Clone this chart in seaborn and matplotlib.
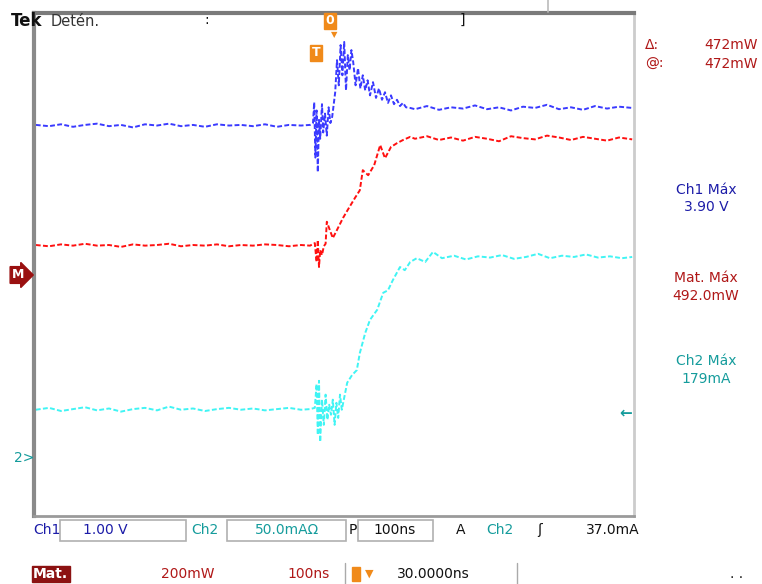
import numpy as np
import pandas as pd
import matplotlib
matplotlib.use("Agg")
import matplotlib.pyplot as plt
from matplotlib.patches import Rectangle
import seaborn as sns

# Datos (tiempo en ns, amplitud en divisiones)
base_t = [-497, -475, -455, -435, -415, -395, -375, -355, -335, -315, -295, -275,
          -255, -235, -215, -195, -175, -155, -135, -115, -95, -75, -55, -40]
flat_t = [135, 155, 175, 195, 215, 235, 255, 275, 295, 315, 335, 355, 375, 395,
          415, 435, 455, 475, 497]

# Ch1 (azul)
ch1_base = [2.22, 2.20, 2.23, 2.19, 2.22, 2.24, 2.20, 2.22, 2.18, 2.23, 2.21, 2.24,
            2.20, 2.22, 2.19, 2.23, 2.21, 2.22, 2.20, 2.23, 2.19, 2.22, 2.21, 2.22]
ch1_mid_t = [-35, -33, -31, -29, -27, -25, -23, -20, -18, -15, -12, -9, -6, -3,
             2, 5, 8, 11, 14, 17, 20, 23, 26, 29,
             32, 36, 40, 44, 48, 52, 56, 60, 65, 70, 75, 80, 85, 90, 95, 100, 105,
             110, 115, 120, 127]
ch1_mid = [2.25, 2.58, 1.70, 2.45, 1.47, 2.30, 2.00, 2.55, 2.10, 2.40, 2.05, 2.50, 2.25, 2.35,
           2.74, 3.25, 2.85, 3.49, 3.01, 3.54, 2.77, 3.33, 3.09, 3.41,
           3.22, 2.85, 3.12, 2.80, 3.01, 2.77, 2.93, 2.69, 2.90, 2.65, 2.80, 2.62, 2.74,
           2.57, 2.69, 2.55, 2.62, 2.52, 2.57, 2.50, 2.49]
ch1_flat = [2.47, 2.52, 2.46, 2.50, 2.48, 2.53, 2.47, 2.50, 2.45, 2.51, 2.49, 2.54,
            2.47, 2.50, 2.46, 2.52, 2.48, 2.51, 2.49]

# Matematica (rojo)
mat_base = [0.31, 0.29, 0.32, 0.30, 0.33, 0.30, 0.31, 0.28, 0.32, 0.30, 0.31, 0.33,
            0.29, 0.31, 0.30, 0.32, 0.29, 0.31, 0.30, 0.32, 0.31, 0.29, 0.31, 0.30]
mat_mid_t = [-32, -29, -27, -25, -23, -20, -17, -14, -12, -2, 5, 15, 23, 35, 43, 48,
             57, 67, 77, 85, 95, 105, 115, 127]
mat_mid = [0.34, 0.04, 0.39, -0.04, 0.23, 0.15, 0.29, 0.33, 0.68, 0.42, 0.55, 0.74,
           0.87, 1.06, 1.18, 1.50, 1.42, 1.58, 1.90, 1.69, 1.87, 1.93, 1.98, 2.03]
mat_flat = [2.00, 2.04, 1.98, 2.02, 1.97, 2.03, 2.00, 1.96, 2.04, 2.01, 1.99, 2.05,
            2.02, 1.98, 2.03, 2.00, 1.97, 2.02, 1.99]

# Ch2 (cian)
ch2_base = [-2.31, -2.28, -2.33, -2.30, -2.27, -2.32, -2.29, -2.34, -2.30, -2.28, -2.32, -2.26,
            -2.31, -2.29, -2.33, -2.30, -2.28, -2.31, -2.29, -2.32, -2.30, -2.28, -2.31, -2.30]
ch2_mid_t = [-32, -29, -27, -25, -23, -20, -17, -14, -11, -8, -5, -2, 1, 4, 7, 10, 13,
             22, 30, 38, 43, 52, 60, 72, 82, 90, 98, 110, 118, 127, 138, 152, 165]
ch2_mid = [-2.28, -1.90, -2.71, -1.85, -2.82, -2.15, -2.55, -2.07, -2.47, -2.23, -2.39,
           -2.15, -2.55, -2.20, -2.44, -2.07, -2.31,
           -1.88, -1.76, -1.68, -1.41, -1.09, -0.88, -0.72, -0.45, -0.41, -0.25, -0.04,
           -0.09, 0.04, 0.10, 0.04, 0.20]
ch2_flat_t = [180, 200, 220, 240, 260, 280, 300, 320, 340, 360, 380, 400, 420, 440,
              460, 480, 497]
ch2_flat = [0.10, 0.14, 0.08, 0.13, 0.11, 0.15, 0.09, 0.12, 0.17, 0.10, 0.14, 0.12,
            0.16, 0.11, 0.13, 0.10, 0.12]

ch1 = pd.DataFrame({"t": base_t + ch1_mid_t + flat_t, "v": ch1_base + ch1_mid + ch1_flat})
mat = pd.DataFrame({"t": base_t + mat_mid_t + flat_t, "v": mat_base + mat_mid + mat_flat})
ch2 = pd.DataFrame({"t": base_t + ch2_mid_t + ch2_flat_t, "v": ch2_base + ch2_mid + ch2_flat})

sns.set_style("white")
W, H = 762, 584
fig = plt.figure(figsize=(W / 100, H / 100), dpi=100)
ax = fig.add_axes([34 / W, 1 - 516 / H, 600 / W, 503 / H])

traza = dict(linewidth=1.4, linestyle=(0, (2.5, 1.2)), estimator=None, sort=False, ax=ax)
sns.lineplot(data=ch1, x="t", y="v", color="#3a3aff", **traza)
sns.lineplot(data=mat, x="t", y="v", color="#ff1010", **traza)
sns.lineplot(data=ch2, x="t", y="v", color="#40f4f4", **traza)

ax.set_xlim(-500, 500)
ax.set_ylim(-4, 4)
ax.set_xticks([])
ax.set_yticks([])
ax.set_xlabel("")
ax.set_ylabel("")
for lado, col, lw in [("top", "#7a7a7a", 3), ("left", "#8a8a8a", 3),
                      ("right", "#cccccc", 2), ("bottom", "#9a9a9a", 2)]:
    ax.spines[lado].set_color(col)
    ax.spines[lado].set_linewidth(lw)


def ftxt(px, py, s, **kw):
    fig.text(px / W, 1 - py / H, s, va="center", **kw)


def caja(x0, y0, x1, y1, **kw):
    fig.patches.append(Rectangle((x0 / W, 1 - y1 / H), (x1 - x0) / W, (y1 - y0) / H,
                                 transform=fig.transFigure, **kw))


AZ, RJ, TL, NG, NJ = "#1c1ca8", "#b01818", "#159c9c", "#111111", "#f08a1a"
fs = 10

# cabecera
ftxt(11, 21, "Tek", fontsize=12, fontweight="bold", color=NG)
ftxt(51, 21, "Detén.", fontsize=10.5, color="#333333")
ftxt(207, 20, ":", fontsize=10, color=NG, ha="center")
ftxt(462, 20, "]", fontsize=10, color=NG, ha="center")
fig.add_artist(plt.Line2D([548 / W, 548 / W], [1 - 12 / H, 1.0], color="#bbbbbb", lw=1.2))
ftxt(330, 21, "0", fontsize=9, fontweight="bold", color="white", ha="center",
     bbox=dict(boxstyle="square,pad=0.12", fc=NJ, ec=NJ))
ftxt(334, 35, "▼", fontsize=6, color=NJ, ha="center")
ftxt(316, 53, "T", fontsize=9, fontweight="bold", color="white", ha="center",
     bbox=dict(boxstyle="square,pad=0.15", fc=NJ, ec=NJ))

# lecturas derecha
ftxt(645, 45, "Δ:", fontsize=fs, color=RJ)
ftxt(645, 64, "@:", fontsize=fs, color=RJ)
ftxt(758, 45, "472mW", fontsize=fs, color=RJ, ha="right")
ftxt(758, 64, "472mW", fontsize=fs, color=RJ, ha="right")
ftxt(706, 190, "Ch1 Máx", fontsize=fs, color=AZ, ha="center")
ftxt(706, 207, "3.90 V", fontsize=fs, color=AZ, ha="center")
ftxt(706, 278, "Mat. Máx", fontsize=fs, color=RJ, ha="center")
ftxt(706, 296, "492.0mW", fontsize=fs, color=RJ, ha="center")
ftxt(706, 361, "Ch2 Máx", fontsize=fs, color=TL, ha="center")
ftxt(706, 379, "179mA", fontsize=fs, color=TL, ha="center")

# marcadores laterales
ftxt(12, 275, "M", fontsize=9, fontweight="bold", color="white",
     bbox=dict(boxstyle="rarrow,pad=0.15", fc="#9a1010", ec="#9a1010"))
ftxt(14, 458, "2>", fontsize=10, color=TL)
ftxt(626, 413, "←", fontsize=11, fontweight="bold", color=TL, ha="center")

# fila inferior 1
yb = 530
ftxt(33, yb, "Ch1", fontsize=fs, color=AZ)
caja(60, 520, 186, 541, fill=False, ec="#b0b0b0", lw=1.2)
ftxt(105, yb, "1.00 V", fontsize=fs, color=AZ, ha="center")
ftxt(191, yb, "Ch2", fontsize=fs, color=TL)
caja(227, 520, 346, 541, fill=False, ec="#b0b0b0", lw=1.2)
ftxt(287, yb, "50.0mAΩ", fontsize=fs, color=TL, ha="center")
ftxt(349, yb, "P", fontsize=fs, color=NG)
caja(358, 520, 433, 541, fill=False, ec="#b0b0b0", lw=1.2)
ftxt(395, yb, "100ns", fontsize=fs, color=NG, ha="center")
ftxt(461, yb, "A", fontsize=fs, color=NG, ha="center")
ftxt(486, yb, "Ch2", fontsize=fs, color=TL)
ftxt(540, yb, "ʃ", fontsize=fs, color=NG, ha="center")
ftxt(640, yb, "37.0mA", fontsize=fs, color=NG, ha="right")

# fila inferior 2
yc = 574
ftxt(33, yc, "Mat.", fontsize=fs, fontweight="bold", color="white",
     bbox=dict(boxstyle="square,pad=0.1", fc="#8c1212", ec="#8c1212"))
ftxt(215, yc, "200mW", fontsize=fs, color=RJ, ha="right")
ftxt(330, yc, "100ns", fontsize=fs, color=RJ, ha="right")
fig.add_artist(plt.Line2D([345 / W, 345 / W], [0, 1 - 563 / H], color="#aaaaaa", lw=1))
fig.add_artist(plt.Line2D([517 / W, 517 / W], [0, 1 - 563 / H], color="#aaaaaa", lw=1))
caja(352, 567, 360, 581, fc=NJ, ec=NJ)
ftxt(369, yc, "▼", fontsize=8, color=NJ, ha="center")
ftxt(470, yc, "30.0000ns", fontsize=fs, color=NG, ha="right")
ftxt(737, yc, ". .", fontsize=fs, color=NG, ha="center")

fig.savefig("out.png", dpi=100)
